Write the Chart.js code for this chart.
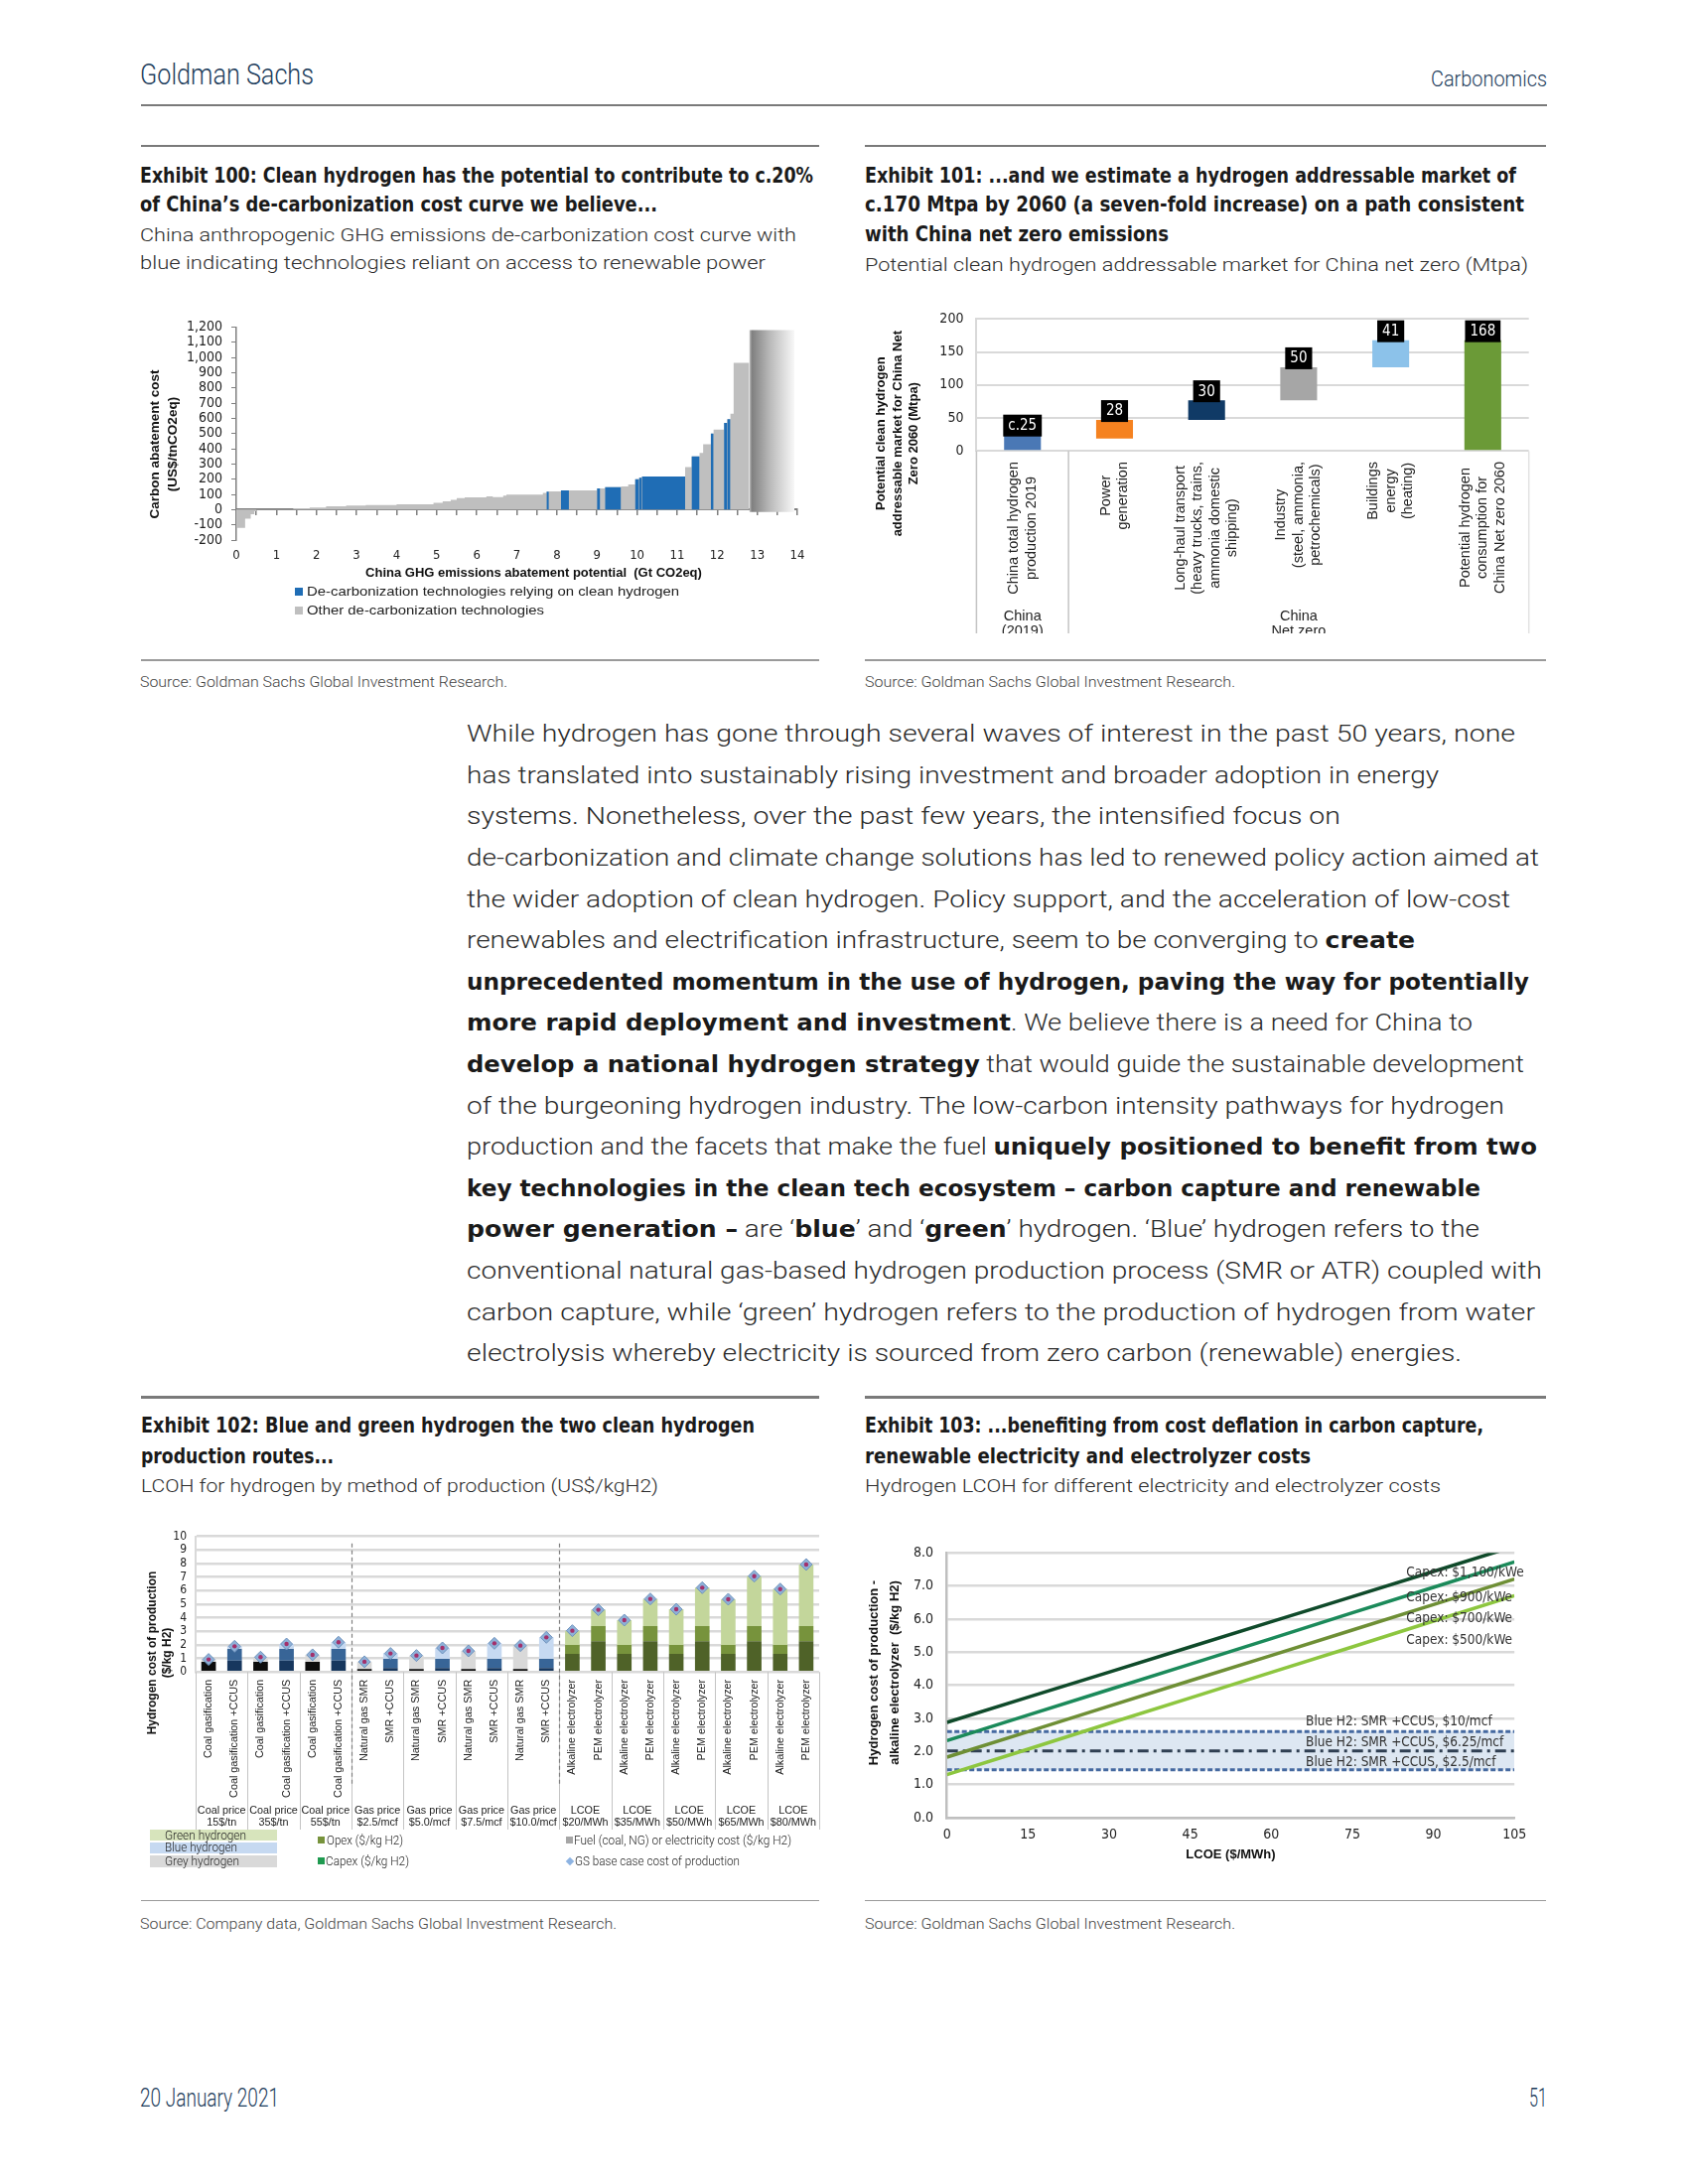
<!DOCTYPE html>
<html lang="en">
<head>
<meta charset="utf-8">
<title>Carbonomics - page 51</title>
<script src="https://cdn.jsdelivr.net/npm/chart.js@4.4.1/dist/chart.umd.min.js"></script>
<style>
  html, body { margin: 0; padding: 0; background: #fff; }
  #page { position: relative; width: 1700px; height: 2200px; overflow: hidden; }
  .t { position: absolute; white-space: nowrap; transform-origin: 0 50%; color: #222; }
  .lt { font-family: Roboto, 'Liberation Sans', sans-serif; font-weight: 300; }
  .bc { font-family: 'DejaVu Sans Condensed', 'Liberation Sans Narrow', sans-serif; font-weight: bold; }
  .ar { font-family: 'Liberation Sans', Arial, sans-serif; }
  .gs { color: #1d3d5c; }
  .ttl { font-size: 21px; line-height: 30px; color: #1a1a1a; }
  .sub { font-size: 19px; line-height: 28px; color: #2b2b2b; }
  .src { font-size: 15px; line-height: 20px; color: #444; }
  .body { left: 470px; font-family: Roboto, 'Liberation Sans', sans-serif; font-weight: 300; font-size: 23px; line-height: 41.6px; color: #2b2b2b; }
  .body b { font-family: 'DejaVu Sans Condensed', 'Liberation Sans Narrow', sans-serif; font-weight: bold; color: #1a1a1a; }
  .rule { position: absolute; background: #7a7a7a; height: 2.5px; }
  .rule.thin { background: #9a9a9a; height: 1.5px; }
  .box { position: absolute; }
  canvas { position: absolute; }
</style>
</head>
<body>
<div id="page">

  <!-- en-tête -->
  <div class="t lt gs" style="left:141px;top:58px;font-size:30px;line-height:34px" data-w="175">Goldman Sachs</div>
  <div class="t lt gs" style="left:1441px;top:67px;font-size:22px;line-height:26px" data-w="117">Carbonomics</div>
  <div class="rule" style="left:142px;top:104.5px;width:1416px"></div>

  <!-- Exhibit 100 -->
  <div class="rule" style="left:142px;top:145.5px;width:683px"></div>
  <div class="t bc ttl" style="left:141px;top:161.7px" data-w="678">Exhibit 100: Clean hydrogen has the potential to contribute to c.20%</div>
  <div class="t bc ttl" style="left:141px;top:190.7px" data-w="521">of China’s de-carbonization cost curve we believe...</div>
  <div class="t lt sub" style="left:141px;top:222.7px" data-w="661">China anthropogenic GHG emissions de-carbonization cost curve with</div>
  <div class="t lt sub" style="left:141px;top:251px" data-w="630">blue indicating technologies reliant on access to renewable power</div>
  <canvas id="c100" width="683" height="280" style="left:142px;top:312px;width:683px;height:280px"></canvas>
  <div class="box" style="left:297px;top:592px;width:8px;height:8px;background:#1f6db5"></div>
  <div class="t ar" style="left:309px;top:587px;font-size:13px;line-height:18px" data-w="375">De-carbonization technologies relying on clean hydrogen</div>
  <div class="box" style="left:297px;top:611px;width:8px;height:8px;background:#bfbfbf"></div>
  <div class="t ar" style="left:309px;top:606px;font-size:13px;line-height:18px" data-w="239">Other de-carbonization technologies</div>
  <div class="rule thin" style="left:142px;top:664.3px;width:683px"></div>
  <div class="t lt src" style="left:141px;top:677px" data-w="370">Source: Goldman Sachs Global Investment Research.</div>

  <!-- Exhibit 101 -->
  <div class="rule" style="left:871px;top:145.5px;width:686px"></div>
  <div class="t bc ttl" style="left:871px;top:161.7px" data-w="656">Exhibit 101: ...and we estimate a hydrogen addressable market of</div>
  <div class="t bc ttl" style="left:871px;top:190.7px" data-w="664">c.170 Mtpa by 2060 (a seven-fold increase) on a path consistent</div>
  <div class="t bc ttl" style="left:871px;top:220.7px" data-w="306">with China net zero emissions</div>
  <div class="t lt sub" style="left:871px;top:252.7px" data-w="668">Potential clean hydrogen addressable market for China net zero (Mtpa)</div>
  <canvas id="c101" width="686" height="338" style="left:871px;top:300px;width:686px;height:338px"></canvas>
  <div class="rule thin" style="left:871px;top:664.3px;width:686px"></div>
  <div class="t lt src" style="left:871px;top:677px" data-w="373">Source: Goldman Sachs Global Investment Research.</div>

  <!-- texte -->
  <div class="t body" style="top:719.2px" data-w="1056">While hydrogen has gone through several waves of interest in the past 50 years, none</div>
  <div class="t body" style="top:760.8px" data-w="979">has translated into sustainably rising investment and broader adoption in energy</div>
  <div class="t body" style="top:802.4px" data-w="880">systems. Nonetheless, over the past few years, the intensified focus on</div>
  <div class="t body" style="top:844px" data-w="1080">de-carbonization and climate change solutions has led to renewed policy action aimed at</div>
  <div class="t body" style="top:885.6px" data-w="1051">the wider adoption of clean hydrogen. Policy support, and the acceleration of low-cost</div>
  <div class="t body" style="top:927.2px" data-w="955">renewables and electrification infrastructure, seem to be converging to <b>create</b></div>
  <div class="t body" style="top:968.8px" data-w="1070"><b>unprecedented momentum in the use of hydrogen, paving the way for potentially</b></div>
  <div class="t body" style="top:1010.4px" data-w="1013"><b>more rapid deployment and investment</b>. We believe there is a need for China to</div>
  <div class="t body" style="top:1052px" data-w="1065"><b>develop a national hydrogen strategy</b> that would guide the sustainable development</div>
  <div class="t body" style="top:1093.6px" data-w="1045">of the burgeoning hydrogen industry. The low-carbon intensity pathways for hydrogen</div>
  <div class="t body" style="top:1135.2px" data-w="1078">production and the facets that make the fuel <b>uniquely positioned to benefit from two</b></div>
  <div class="t body" style="top:1176.8px" data-w="1021"><b>key technologies in the clean tech ecosystem – carbon capture and renewable</b></div>
  <div class="t body" style="top:1218.4px" data-w="1020"><b>power generation –</b> are ‘<b>blue</b>’ and ‘<b>green</b>’ hydrogen. ‘Blue’ hydrogen refers to the</div>
  <div class="t body" style="top:1260px" data-w="1083">conventional natural gas-based hydrogen production process (SMR or ATR) coupled with</div>
  <div class="t body" style="top:1301.6px" data-w="1076">carbon capture, while ‘green’ hydrogen refers to the production of hydrogen from water</div>
  <div class="t body" style="top:1343.2px" data-w="1002">electrolysis whereby electricity is sourced from zero carbon (renewable) energies.</div>

  <!-- Exhibit 102 -->
  <div class="rule" style="left:142px;top:1406px;width:683px"></div>
  <div class="t bc ttl" style="left:142px;top:1421px" data-w="618">Exhibit 102: Blue and green hydrogen the two clean hydrogen</div>
  <div class="t bc ttl" style="left:142px;top:1451.7px" data-w="194">production routes...</div>
  <div class="t lt sub" style="left:142px;top:1482.7px" data-w="521">LCOH for hydrogen by method of production (US$/kgH2)</div>
  <canvas id="c102" width="690" height="316" style="left:142px;top:1530px;width:690px;height:316px"></canvas>
  <div class="box" style="left:151px;top:1843.3px;width:128px;height:10.7px;background:#d7e4bc"></div>
  <div class="box" style="left:151px;top:1855.7px;width:128px;height:11px;background:#c6d9f1"></div>
  <div class="box" style="left:151px;top:1869.3px;width:128px;height:11.4px;background:#d9d9d9"></div>
  <div class="t lt" style="left:166px;top:1841.7px;font-size:13px;line-height:14px" data-w="82">Green hydrogen</div>
  <div class="t lt" style="left:166px;top:1854.2px;font-size:13px;line-height:14px" data-w="73">Blue hydrogen</div>
  <div class="t lt" style="left:166px;top:1868px;font-size:13px;line-height:14px" data-w="75">Grey hydrogen</div>
  <div class="box" style="left:320px;top:1850.2px;width:7px;height:7px;background:#77933c"></div>
  <div class="t lt" style="left:329px;top:1846.7px;font-size:13px;line-height:14px" data-w="77">Opex ($/kg H2)</div>
  <div class="box" style="left:320px;top:1871.2px;width:7px;height:7px;background:#1f9a50"></div>
  <div class="t lt" style="left:328px;top:1867.7px;font-size:13px;line-height:14px" data-w="84">Capex ($/kg H2)</div>
  <div class="box" style="left:570px;top:1850.2px;width:7px;height:7px;background:#a6a6a6"></div>
  <div class="t lt" style="left:578px;top:1846.7px;font-size:13px;line-height:14px" data-w="219">Fuel (coal, NG) or electricity cost ($/kg H2)</div>
  <div class="box" style="left:570.5px;top:1871.5px;width:6px;height:6px;background:#8db3e2;transform:rotate(45deg)"></div>
  <div class="t lt" style="left:579px;top:1867.7px;font-size:13px;line-height:14px" data-w="166">GS base case cost of production</div>
  <div class="rule thin" style="left:142px;top:1913.5px;width:683px"></div>
  <div class="t lt src" style="left:141px;top:1928px" data-w="480">Source: Company data, Goldman Sachs Global Investment Research.</div>

  <!-- Exhibit 103 -->
  <div class="rule" style="left:871px;top:1406px;width:686px"></div>
  <div class="t bc ttl" style="left:871px;top:1421px" data-w="623">Exhibit 103: ...benefiting from cost deflation in carbon capture,</div>
  <div class="t bc ttl" style="left:871px;top:1451.7px" data-w="449">renewable electricity and electrolyzer costs</div>
  <div class="t lt sub" style="left:871px;top:1482.7px" data-w="580">Hydrogen LCOH for different electricity and electrolyzer costs</div>
  <canvas id="c103" width="686" height="340" style="left:871px;top:1540px;width:686px;height:340px"></canvas>
  <div class="rule thin" style="left:871px;top:1913.5px;width:686px"></div>
  <div class="t lt src" style="left:871px;top:1928px" data-w="373">Source: Goldman Sachs Global Investment Research.</div>

  <!-- pied de page -->
  <div class="t lt gs" style="left:141px;top:2098px;font-size:26px;line-height:30px" data-w="140">20 January 2021</div>
  <div class="t lt gs" style="left:1540px;top:2098px;font-size:26px;line-height:30px" data-w="18">51</div>
</div>

<script>
// ---- Exhibit 100 : courbe de coûts (Gt CO2eq / US$ par tCO2eq) ----
const curveStart = [0, 0.22, 0.36, 0.45, 0.5, 1.42, 1.83, 2.24, 2.74, 3.23, 4.0, 4.92, 5.15, 5.35, 5.5, 5.7, 6.24, 6.4, 6.66, 6.74,
                    7.65, 7.74, 7.8, 8.1, 8.3, 9.0, 9.08, 9.2, 9.6, 9.78, 9.95, 10.05, 10.12, 11.2, 11.36, 11.56, 11.65, 11.84,
                    11.91, 12.17, 12.25, 12.33, 12.41];
const curveCost = [-120, -60, -30, -10, 2, 8, 14, 21, 26, 30, 35, 45, 55, 65, 76, 80, 87, 82, 92, 99,
                   110, 118, 120, 127, 127, 139, 139, 147, 152, 165, 200, 210, 218, 280, 350, 372, 430, 500,
                   525, 570, 595, 630, 965];
const curveH2 = [0, 0, 0, 0, 0, 0, 0, 0, 0, 0, 0, 0, 0, 0, 0, 0, 0, 0, 0, 0,
                 0, 1, 0, 1, 0, 1, 0, 1, 0, 0, 1, 1, 1, 0, 1, 0, 0, 1,
                 0, 1, 1, 0, 0];
const curveEnd = 12.8;
const tailStart = 12.8, tailEnd = 13.93, tailCost = 1180, tailFloor = -15;

// ---- Exhibit 101 : marché adressable (Mtpa) ----
const marketCats = [
  ['China total hydrogen', 'production 2019'],
  ['Power', 'generation'],
  ['Long-haul transport', '(heavy trucks, trains,', 'ammonia domestic', 'shipping)'],
  ['Industry', '(steel, ammonia,', 'petrochemicals)'],
  ['Buildings', 'energy', '(heating)'],
  ['Potential hydrogen', 'consumption for', 'China Net zero 2060']
];
const marketFrom = [0, 19, 47, 77, 127, 0];
const marketTo = [25, 47, 77, 127, 168, 168];
const marketLabels = ['c.25', '28', '30', '50', '41', '168'];
const marketGroups = [['China', '(2019)'], ['China', 'Net zero']];

// ---- Exhibit 102 : LCOH par mode de production ($/kg H2) ----
const lcohNames = [
  'Coal gasification', 'Coal gasification +CCUS', 'Coal gasification', 'Coal gasification +CCUS',
  'Coal gasification', 'Coal gasification +CCUS',
  'Natural gas SMR', 'SMR +CCUS', 'Natural gas SMR', 'SMR +CCUS', 'Natural gas SMR', 'SMR +CCUS',
  'Natural gas SMR', 'SMR +CCUS',
  'Alkaline electrolyzer', 'PEM electrolyzer', 'Alkaline electrolyzer', 'PEM electrolyzer',
  'Alkaline electrolyzer', 'PEM electrolyzer', 'Alkaline electrolyzer', 'PEM electrolyzer',
  'Alkaline electrolyzer', 'PEM electrolyzer'
];
const lcohKind = ['grey', 'blue', 'grey', 'blue', 'grey', 'blue', 'grey', 'blue', 'grey', 'blue', 'grey', 'blue', 'grey', 'blue',
                  'green', 'green', 'green', 'green', 'green', 'green', 'green', 'green', 'green', 'green'];
const lcohCapex = [0.75, 0.85, 0.75, 0.85, 0.75, 0.85, 0.22, 0.30, 0.22, 0.30, 0.22, 0.30, 0.22, 0.30,
                   1.34, 2.27, 1.34, 2.27, 1.34, 2.27, 1.34, 2.27, 1.34, 2.27];
const lcohOpex = [0, 0.85, 0, 0.85, 0, 0.85, 0, 0.68, 0, 0.68, 0, 0.68, 0, 0.68,
                  0.66, 1.12, 0.66, 1.12, 0.66, 1.12, 0.66, 1.12, 0.66, 1.12];
const lcohFuel = [0.18, 0.20, 0.35, 0.37, 0.52, 0.50, 0.54, 0.39, 1.00, 0.80, 1.34, 1.14, 1.73, 1.58,
                  1.05, 1.20, 1.83, 2.00, 2.63, 2.83, 3.37, 3.68, 4.12, 4.54];
const lcohGS = [0.93, 1.90, 1.10, 2.07, 1.27, 2.20, 0.76, 1.37, 1.22, 1.78, 1.56, 2.12, 1.95, 2.56,
                3.05, 4.59, 3.83, 5.39, 4.63, 6.22, 5.37, 7.07, 6.12, 7.93];
const lcohGroups = [
  ['Coal price', '15$/tn'], ['Coal price', '35$/tn'], ['Coal price', '55$/tn'],
  ['Gas price', '$2.5/mcf'], ['Gas price', '$5.0/mcf'], ['Gas price', '$7.5/mcf'], ['Gas price', '$10.0/mcf'],
  ['LCOE', '$20/MWh'], ['LCOE', '$35/MWh'], ['LCOE', '$50/MWh'], ['LCOE', '$65/MWh'], ['LCOE', '$80/MWh']
];

// ---- Exhibit 103 : LCOH électrolyse alcaline vs LCOE ----
const lcoe = [0, 15, 30, 45, 60, 75, 90, 105];
const capex1100 = [2.88, 3.64, 4.40, 5.16, 5.92, 6.68, 7.44, 8.20];
const capex900 = [2.33, 3.10, 3.87, 4.64, 5.41, 6.19, 6.96, 7.73];
const capex700 = [1.83, 2.60, 3.37, 4.14, 4.90, 5.67, 6.44, 7.21];
const capex500 = [1.30, 2.07, 2.85, 3.62, 4.39, 5.16, 5.94, 6.71];
const blueH2 = [2.60, 2.02, 1.45];   // SMR +CCUS à $10, $6.25, $2.5/mcf

const NARROW = "'DejaVu Sans Condensed', 'Liberation Sans Narrow', sans-serif";
const ARIAL = "'Liberation Sans', Arial, sans-serif";

Chart.defaults.font.family = ARIAL;
Chart.defaults.color = '#222';
Chart.defaults.animation = false;
Chart.defaults.responsive = false;
Chart.defaults.events = [];
Chart.defaults.plugins.legend.display = false;
Chart.defaults.plugins.tooltip.enabled = false;

// textes libres dessinés sur le canvas (titres d'axes, etc.)
function textLayer(id, items) {
  return {
    id,
    afterDraw(chart) {
      const ctx = chart.ctx;
      items.forEach(it => {
        ctx.save();
        ctx.font = it.font;
        ctx.fillStyle = it.color || '#111';
        ctx.textAlign = it.align || 'center';
        ctx.textBaseline = 'middle';
        ctx.translate(it.x, it.y);
        if (it.rot) ctx.rotate(-Math.PI / 2);
        it.lines.forEach((l, j) => ctx.fillText(l, 0, j * (it.lh || 0)));
        ctx.restore();
      });
    }
  };
}

// ================= Exhibit 100 =================
const flat = { borderColor: 'rgba(0,0,0,0)', borderWidth: 0, pointRadius: 0, stepped: true, xAxisID: 'x', yAxisID: 'y' };
const curvePoints = curveStart.map((x, i) => ({ x, y: curveCost[i] }));
curvePoints.push({ x: curveEnd, y: curveCost[curveCost.length - 1] });

const h2Sets = [];
curveStart.forEach((x, i) => {
  if (!curveH2[i]) return;
  const x1 = i + 1 < curveStart.length ? curveStart[i + 1] : curveEnd;
  h2Sets.push({ ...flat, data: [{ x, y: curveCost[i] }, { x: x1, y: curveCost[i] }], fill: 'origin', backgroundColor: '#1f6db5', order: 0 });
});

new Chart(document.getElementById('c100'), {
  type: 'line',
  data: {
    datasets: [
      ...h2Sets,
      {
        ...flat, order: 1,
        data: [{ x: tailStart, y: tailCost }, { x: tailEnd, y: tailCost }],
        fill: { value: tailFloor },
        backgroundColor: (c) => {
          const ch = c.chart;
          if (!ch.chartArea) return '#bbb';
          const xs = ch.scales.x;
          const g = ch.ctx.createLinearGradient(xs.getPixelForValue(tailStart), 0, xs.getPixelForValue(tailEnd), 0);
          g.addColorStop(0, '#c4c4c4');
          g.addColorStop(0.06, '#808080');
          g.addColorStop(0.45, '#b9b9b9');
          g.addColorStop(1, '#f8f8f8');
          return g;
        }
      },
      { ...flat, order: 2, data: curvePoints, fill: 'origin', backgroundColor: '#bfbfbf' }
    ]
  },
  options: {
    layout: { padding: { top: 16, right: 22, left: 0, bottom: 0 } },
    plugins: { filler: { propagate: false } },
    scales: {
      x: {
        type: 'linear', min: 0, max: 14, position: 'bottom',
        ticks: { stepSize: 1, autoSkip: false, maxTicksLimit: 40, maxRotation: 0, padding: 8, font: { family: NARROW, size: 13 }, color: '#222' },
        grid: { display: false, drawTicks: false },
        border: { display: false },
        afterFit: (s) => { s.height = 48; }
      },
      x2: {
        type: 'linear', axis: 'x', min: 0, max: 14, position: { y: 0 },
        ticks: { display: false, stepSize: 0.5, maxTicksLimit: 40, autoSkip: false },
        grid: { drawOnChartArea: false, drawTicks: true, tickLength: 5, color: '#7f7f7f', lineWidth: 1.5 },
        border: { color: '#7f7f7f', width: 2 }
      },
      y: {
        min: -200, max: 1200,
        ticks: { stepSize: 100, maxTicksLimit: 40, autoSkip: false, padding: 9, font: { family: NARROW, size: 14 }, color: '#222',
                 callback: (v) => v.toLocaleString('en-US') },
        grid: { drawOnChartArea: false, drawTicks: true, tickLength: 5, color: '#7f7f7f' },
        border: { color: '#7f7f7f', width: 1.5 },
        afterFit: (s) => { s.width = 96; }
      }
    }
  },
  plugins: [textLayer('t100', [
    { lines: ['Carbon abatement cost', '(US$/tnCO2eq)'], x: 14, y: 135.5, lh: 18.5, rot: true, font: 'bold 13.5px ' + ARIAL },
    { lines: ['China GHG emissions abatement potential  (Gt CO2eq)'], x: 395.5, y: 265, font: 'bold 13px ' + ARIAL }
  ])]
});

// ================= Exhibit 101 =================
const marketDecor = {
  id: 'marketDecor',
  afterDatasetsDraw(chart) {
    const ctx = chart.ctx, ys = chart.scales.y;
    ctx.save();
    ctx.font = '15px ' + NARROW;
    ctx.textAlign = 'center';
    ctx.textBaseline = 'middle';
    chart.getDatasetMeta(0).data.forEach((bar, i) => {
      const txt = marketLabels[i];
      const w = ctx.measureText(txt).width + 10, h = 22;
      const bottom = ys.getPixelForValue(marketTo[i]) + 2;
      ctx.fillStyle = '#000';
      ctx.fillRect(bar.x - w / 2, bottom - h, w, h);
      ctx.fillStyle = '#fff';
      ctx.fillText(txt, bar.x, bottom - h / 2 + 0.5);
    });
    ctx.restore();
  },
  afterDraw(chart) {
    const ctx = chart.ctx, xs = chart.scales.x, area = chart.chartArea;
    const catW = xs.getPixelForTick(1) - xs.getPixelForTick(0);
    ctx.save();
    // séparateurs de groupes sous l'axe
    ctx.lineWidth = 1.5;
    [[area.left, '#c4c4c4'], [area.left + catW, '#c4c4c4'], [area.right, '#e2e2e2']].forEach(([x, col]) => {
      ctx.strokeStyle = col;
      ctx.beginPath(); ctx.moveTo(x, area.bottom); ctx.lineTo(x, chart.height); ctx.stroke();
    });
    // libellés de catégories, verticaux, lignes centrées
    ctx.font = '14.5px ' + ARIAL;
    ctx.fillStyle = '#222';
    ctx.textAlign = 'center';
    ctx.textBaseline = 'middle';
    chart.data.labels.forEach((lines, i) => {
      const x = xs.getPixelForTick(i);
      const maxW = Math.max(...lines.map(l => ctx.measureText(l).width));
      const cy = area.bottom + 10.7 + maxW / 2;
      lines.forEach((l, j) => {
        ctx.save();
        ctx.translate(x + (j - (lines.length - 1) / 2) * 17.5, cy);
        ctx.rotate(-Math.PI / 2);
        ctx.fillText(l, 0, 0);
        ctx.restore();
      });
    });
    // libellés de groupes (coupés par le bas du cadre)
    const groupX = [xs.getPixelForTick(0), xs.getPixelForTick(3)];
    marketGroups.forEach((g, k) => {
      ctx.fillText(g[0], groupX[k], 321);
      ctx.fillText(g[1], groupX[k], 336);
    });
    ctx.restore();
  }
};

new Chart(document.getElementById('c101'), {
  type: 'bar',
  data: {
    labels: marketCats,
    datasets: [{
      data: marketCats.map((_, i) => [marketFrom[i], marketTo[i]]),
      backgroundColor: ['#4a78b5', '#f58220', '#103a66', '#a6a6a6', '#8cc2ea', '#6b9a37'],
      barPercentage: 0.4, categoryPercentage: 1
    }]
  },
  options: {
    layout: { padding: { top: 19.3, right: 17.3, left: 0, bottom: 0 } },
    scales: {
      x: {
        ticks: { display: false }, grid: { display: false, drawTicks: false }, border: { display: false },
        afterFit: (s) => { s.height = 183.7; }
      },
      y: {
        min: 0, max: 200,
        ticks: { stepSize: 50, autoSkip: false, padding: 13, font: { family: NARROW, size: 14 }, color: '#222' },
        grid: { color: '#d9d9d9', lineWidth: 2, drawTicks: false },
        border: { color: '#d9d9d9', width: 2 },
        afterFit: (s) => { s.width = 112.4; }
      }
    }
  },
  plugins: [marketDecor, textLayer('t101', [
    { lines: ['Potential clean hydrogen', 'addressable market for China Net', 'Zero 2060 (Mtpa)'], x: 16.8, y: 136.7, lh: 16.4, rot: true, font: 'bold 13px ' + ARIAL }
  ])]
});

// ================= Exhibit 102 =================
const lcohPalette = {
  grey: { capex: '#0d0d0d', opex: '#404040', fuel: '#d9d9d9' },
  blue: { capex: '#17375e', opex: '#386597', fuel: '#c6d9f1' },
  green: { capex: '#4f6228', opex: '#77933c', fuel: '#c3d69b' }
};
const barStyle = { stack: 'cost', barPercentage: 0.56, categoryPercentage: 1, borderWidth: 0, order: 0 };

const lcohDecor = {
  id: 'lcohDecor',
  afterDraw(chart) {
    const ctx = chart.ctx, xs = chart.scales.x, area = chart.chartArea;
    const catW = xs.getPixelForTick(1) - xs.getPixelForTick(0);
    ctx.save();
    // libellés verticaux
    ctx.font = '10.8px ' + ARIAL;
    ctx.fillStyle = '#222';
    ctx.textAlign = 'right';
    ctx.textBaseline = 'middle';
    lcohNames.forEach((n, i) => {
      ctx.save();
      ctx.translate(xs.getPixelForTick(i), area.bottom + 7.5);
      ctx.rotate(-Math.PI / 2);
      ctx.fillText(n, 0, 0);
      ctx.restore();
    });
    // séparateurs de groupes
    ctx.strokeStyle = '#c4c4c4';
    ctx.lineWidth = 1;
    for (let k = 0; k <= lcohGroups.length; k++) {
      const x = Math.round(area.left + k * 2 * catW) + 0.5;
      ctx.beginPath(); ctx.moveTo(x, area.bottom); ctx.lineTo(x, 313); ctx.stroke();
    }
    // pointillés entre familles (gris/bleu/vert)
    ctx.strokeStyle = '#7f7f7f';
    ctx.lineWidth = 1.2;
    ctx.setLineDash([4, 3]);
    [6, 14].forEach(c => {
      const x = Math.round(area.left + c * catW) + 0.5;
      ctx.beginPath(); ctx.moveTo(x, area.top + 7); ctx.lineTo(x, 268); ctx.stroke();
    });
    ctx.setLineDash([]);
    // libellés de groupes
    ctx.textAlign = 'center';
    ctx.font = '10.8px ' + ARIAL;
    lcohGroups.forEach((g, k) => {
      const x = area.left + (2 * k + 1) * catW;
      ctx.fillText(g[0], x, 294);
      ctx.fillText(g[1], x, 306);
    });
    ctx.restore();
  }
};

new Chart(document.getElementById('c102'), {
  type: 'bar',
  data: {
    labels: lcohNames,
    datasets: [
      { ...barStyle, label: 'Capex ($/kg H2)', data: lcohCapex, backgroundColor: lcohKind.map(k => lcohPalette[k].capex) },
      { ...barStyle, label: 'Opex ($/kg H2)', data: lcohOpex, backgroundColor: lcohKind.map(k => lcohPalette[k].opex) },
      { ...barStyle, label: 'Fuel (coal, NG) or electricity cost ($/kg H2)', data: lcohFuel, backgroundColor: lcohKind.map(k => lcohPalette[k].fuel) },
      { type: 'line', label: 'GS base case cost of production', data: lcohGS, showLine: false, stack: 'gs1', order: -1,
        pointStyle: 'rectRot', pointRadius: 6, pointBackgroundColor: '#8eb1d8', pointBorderColor: '#6f92bd', pointBorderWidth: 1 },
      { type: 'line', data: lcohGS, showLine: false, stack: 'gs2', order: -2,
        pointStyle: 'circle', pointRadius: 2.2, pointBackgroundColor: '#a3306b', pointBorderWidth: 0 }
    ]
  },
  options: {
    layout: { padding: { top: 17.7, right: 6, left: 0, bottom: 0 } },
    scales: {
      x: {
        stacked: true,
        ticks: { display: false }, grid: { display: false, drawTicks: false }, border: { display: false },
        afterFit: (s) => { s.height = 161.7; }
      },
      y: {
        stacked: true, min: 0, max: 10,
        ticks: { stepSize: 1, autoSkip: false, padding: 9, font: { family: NARROW, size: 12 }, color: '#222' },
        grid: { color: '#d9d9d9', lineWidth: 2.5, drawTicks: false },
        border: { color: '#d9d9d9', width: 2 },
        afterFit: (s) => { s.width = 55; }
      }
    }
  },
  plugins: [lcohDecor, textLayer('t102', [
    { lines: ['Hydrogen cost of production', '($/kg H2)'], x: 12, y: 135, lh: 15, rot: true, font: 'bold 12px ' + ARIAL }
  ])]
});

// ================= Exhibit 103 =================
const pts = (ys) => lcoe.map((x, i) => ({ x, y: ys[i] }));
const flatLine = (y) => [{ x: lcoe[0], y }, { x: lcoe[lcoe.length - 1], y }];
const green = { borderWidth: 3.5, pointRadius: 0, fill: false };
const blue = { borderWidth: 3, pointRadius: 0, fill: false };

const lcoeNotes = {
  id: 'lcoeNotes',
  afterDatasetsDraw(chart) {
    const ctx = chart.ctx, xs = chart.scales.x, ys = chart.scales.y;
    ctx.save();
    ctx.font = '13.5px ' + NARROW;
    ctx.fillStyle = '#333';
    ctx.textAlign = 'left';
    ctx.textBaseline = 'middle';
    [['Capex: $1,100/kWe', 7.38], ['Capex: $900/kWe', 6.63], ['Capex: $700/kWe', 6.0], ['Capex: $500/kWe', 5.36]]
      .forEach(([t, y]) => ctx.fillText(t, xs.getPixelForValue(85), ys.getPixelForValue(y)));
    [['Blue H2: SMR +CCUS, $10/mcf', 2.88], ['Blue H2: SMR +CCUS, $6.25/mcf', 2.25], ['Blue H2: SMR +CCUS, $2.5/mcf', 1.66]]
      .forEach(([t, y]) => ctx.fillText(t, xs.getPixelForValue(66.4), ys.getPixelForValue(y)));
    ctx.restore();
  }
};

new Chart(document.getElementById('c103'), {
  type: 'line',
  data: {
    datasets: [
      { ...green, label: 'Capex: $1,100/kWe', data: pts(capex1100), borderColor: '#0f4a2a' },
      { ...green, label: 'Capex: $900/kWe', data: pts(capex900), borderColor: '#1b8a5a' },
      { ...green, label: 'Capex: $700/kWe', data: pts(capex700), borderColor: '#6e8f35' },
      { ...green, label: 'Capex: $500/kWe', data: pts(capex500), borderColor: '#8dc63f' },
      { ...blue, label: 'Blue H2: SMR +CCUS, $10/mcf', data: flatLine(blueH2[0]), borderColor: '#4569a0', borderDash: [5, 2.5],
        fill: '+2', backgroundColor: '#dde7f2' },
      { ...blue, label: 'Blue H2: SMR +CCUS, $6.25/mcf', data: flatLine(blueH2[1]), borderColor: '#2f3f52', borderDash: [11, 5, 3, 5] },
      { ...blue, label: 'Blue H2: SMR +CCUS, $2.5/mcf', data: flatLine(blueH2[2]), borderColor: '#4569a0', borderDash: [5, 2.5] }
    ]
  },
  options: {
    layout: { padding: { top: 24.3, right: 31.8, left: 0, bottom: 0 } },
    plugins: { filler: { drawTime: 'beforeDatasetsDraw' } },
    scales: {
      x: {
        type: 'linear', min: 0, max: 105,
        ticks: { stepSize: 15, autoSkip: false, padding: 8.6, maxRotation: 0, font: { family: NARROW, size: 14 }, color: '#222' },
        grid: { display: false, drawTicks: false },
        border: { color: '#bfbfbf', width: 2.5 },
        afterFit: (s) => { s.height = 49; }
      },
      y: {
        min: 0, max: 8,
        ticks: { stepSize: 1, autoSkip: false, padding: 13.7, font: { family: NARROW, size: 14 }, color: '#222', callback: (v) => v.toFixed(1) },
        grid: { color: '#d9d9d9', lineWidth: 2.5, drawTicks: false },
        border: { color: '#bfbfbf', width: 2.5 },
        afterFit: (s) => { s.width = 82.7; }
      }
    }
  },
  plugins: [lcoeNotes, textLayer('t103', [
    { lines: ['Hydrogen cost of production -', 'alkaline electrolyzer  ($/kg H2)'], x: 9.5, y: 145, lh: 21, rot: true, font: 'bold 13px ' + ARIAL },
    { lines: ['LCOE ($/MWh)'], x: 368.5, y: 328, font: 'bold 13px ' + ARIAL }
  ])]
});

// ajuste la largeur des lignes de texte à celle de la page d'origine
function fitWidths() {
  document.querySelectorAll('[data-w]').forEach(el => {
    el.style.transform = 'none';
    const w = el.getBoundingClientRect().width;
    if (w > 0) el.style.transform = 'scaleX(' + (parseFloat(el.dataset.w) / w).toFixed(4) + ')';
  });
}
fitWidths();
if (document.fonts) document.fonts.ready.then(fitWidths);
</script>
</body>
</html>
